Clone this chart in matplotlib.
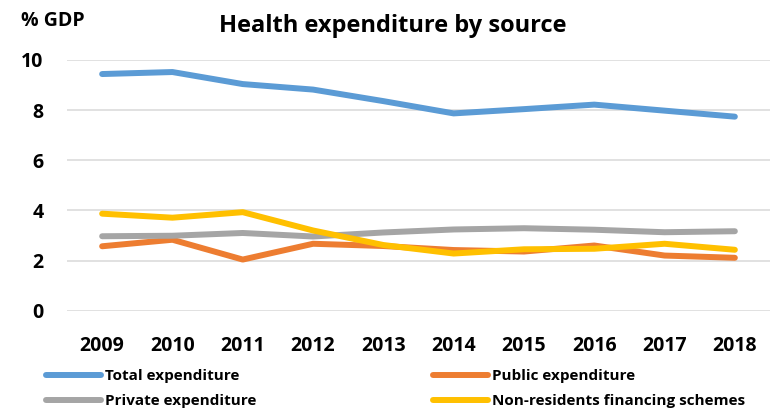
import numpy as np
import matplotlib
matplotlib.use("Agg")
import matplotlib.pyplot as plt

plt.rcParams['font.family'] = ['Open Sans', 'DejaVu Sans']

years = ['2009', '2010', '2011', '2012', '2013', '2014', '2015', '2016', '2017', '2018']
total_exp = [9.44, 9.52, 9.04, 8.82, 8.36, 7.87, 8.04, 8.22, 7.98, 7.74]
public_exp = [2.57, 2.83, 2.04, 2.67, 2.58, 2.42, 2.36, 2.60, 2.20, 2.11]
private_exp = [2.97, 2.99, 3.10, 2.96, 3.12, 3.24, 3.29, 3.23, 3.13, 3.17]
nonres_exp = [3.87, 3.71, 3.93, 3.20, 2.62, 2.28, 2.45, 2.47, 2.67, 2.43]

W, H = 770, 411
fig = plt.figure(figsize=(W / 100, H / 100), dpi=100)
ax = fig.add_axes([67 / W, 1 - 310.7 / H, 703 / W, (310.7 - 60) / H])

x = np.arange(len(years))
lw = 4.3
l_tot, = ax.plot(x, total_exp, color='#5B9BD5', lw=lw, solid_capstyle='round', label='Total expenditure')
l_pub, = ax.plot(x, public_exp, color='#ED7D31', lw=lw, solid_capstyle='round', label='Public expenditure')
l_pri, = ax.plot(x, private_exp, color='#A5A5A5', lw=lw, solid_capstyle='round', label='Private expenditure')
l_non, = ax.plot(x, nonres_exp, color='#FFC000', lw=lw, solid_capstyle='round', label='Non-residents financing schemes')

ax.set_xlim(-0.5, len(years) - 0.5)
ax.set_ylim(0, 10)
ax.set_yticks([0, 2, 4, 6, 8, 10])
ax.set_xticks(x)
ax.set_xticklabels(years)
ax.yaxis.grid(True, color='#D9D9D9', lw=1.1)
ax.set_axisbelow(True)
for s in ax.spines.values():
    s.set_visible(False)
ax.tick_params(axis='both', length=0, labelsize=14)
ax.tick_params(axis='y', pad=17)
ax.tick_params(axis='x', pad=18)
for lab in ax.get_xticklabels() + ax.get_yticklabels():
    lab.set_fontweight('bold')

fig.text(393 / W, 1 - 32 / H, 'Health expenditure by source', ha='center', va='baseline',
         fontsize=17, fontweight='bold')
fig.text(21 / W, 1 - 26 / H, '% GDP', ha='left', va='baseline', fontsize=14, fontweight='bold')

# legend in two columns below the axis, filled column by column
leg = fig.legend([l_tot, l_pri, l_pub, l_non],
                 ['Total expenditure', 'Private expenditure', 'Public expenditure',
                  'Non-residents financing schemes'],
                 ncol=2, loc='upper left', bbox_to_anchor=(46 / W, 1 - 369 / H),
                 frameon=False, prop={'size': 11, 'weight': 'bold'},
                 handlelength=3.6, handletextpad=0.25, columnspacing=11.6,
                 labelspacing=0.75, borderaxespad=0, borderpad=0)

fig.savefig('out.png', dpi=100)
